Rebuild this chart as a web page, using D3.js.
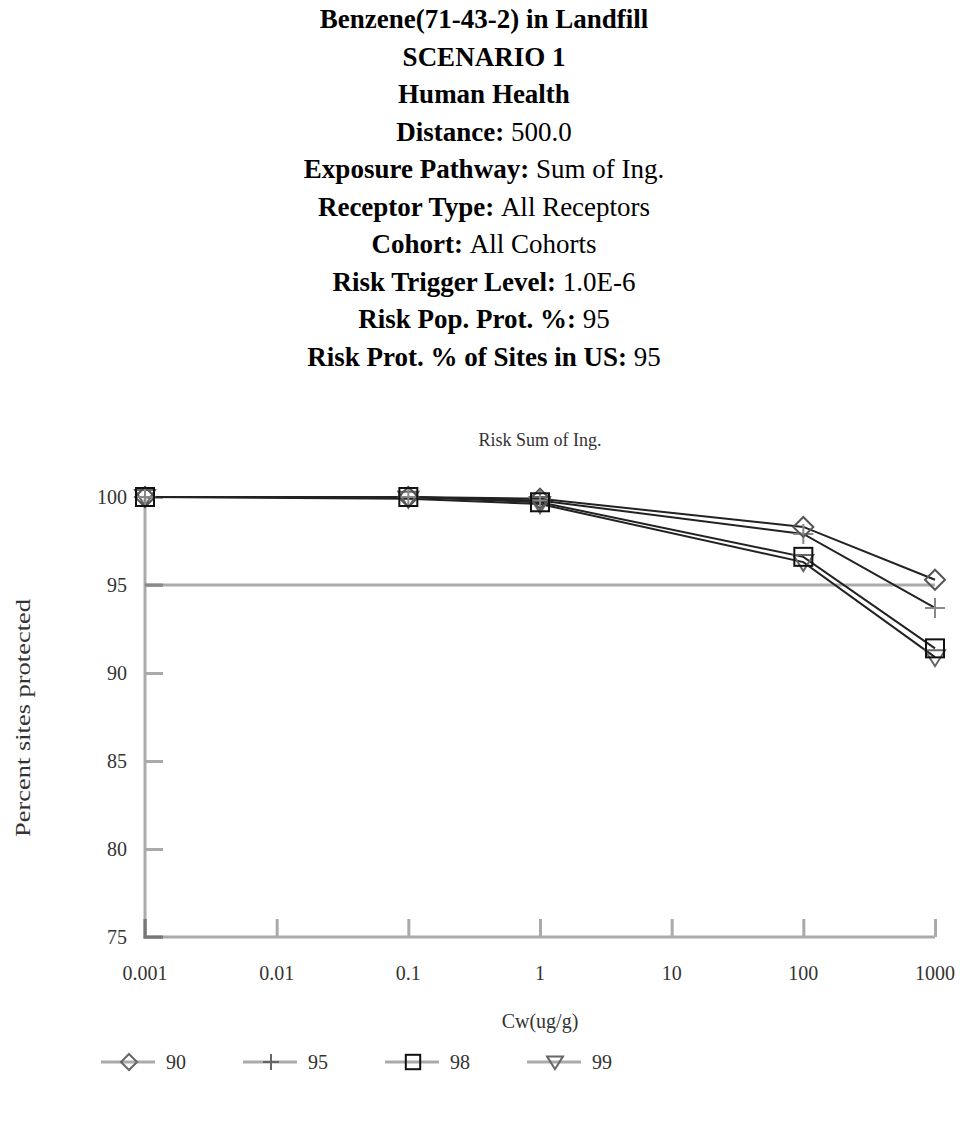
<!DOCTYPE html>
<html>
<head>
<meta charset="utf-8">
<script src="https://cdn.jsdelivr.net/npm/d3@7"></script>
<style>
  html, body { margin: 0; padding: 0; background: #fff; }
  svg text { font-family: "Liberation Serif", "Times New Roman", serif; }
</style>
</head>
<body>
<div id="chart"></div>
<script>
// ---- data ----------------------------------------------------------------
const titleLines = [
  ['Benzene(71-43-2) in Landfill', ''],
  ['SCENARIO 1', ''],
  ['Human Health', ''],
  ['Distance: ', '500.0'],
  ['Exposure Pathway: ', 'Sum of Ing.'],
  ['Receptor Type: ', 'All Receptors'],
  ['Cohort: ', 'All Cohorts'],
  ['Risk Trigger Level: ', '1.0E-6'],
  ['Risk Pop. Prot. %: ', '95'],
  ['Risk Prot. % of Sites in US: ', '95']
];
const cwValues = [0.001, 0.1, 1, 100, 1000];
const xTicks = [0.001, 0.01, 0.1, 1, 10, 100, 1000];
const xTickLabels = ['0.001', '0.01', '0.1', '1', '10', '100', '1000'];
const yTicks = [75, 80, 85, 90, 95, 100];
const seriesNames = ['90', '95', '98', '99'];
const seriesMarkers = ['diamond', 'plus', 'square', 'triangle'];
const pct90 = [100, 100, 99.9, 98.3, 95.3];
const pct95 = [100, 100, 99.8, 97.9, 93.7];
const pct98 = [100, 100, 99.7, 96.6, 91.4];
const pct99 = [100, 99.9, 99.6, 96.3, 90.9];
const protectionLevel = 95;

const W = 964, H = 1131;
const svg = d3.select('#chart').append('svg')
  .attr('width', W).attr('height', H)
  .attr('viewBox', [0, 0, W, H]);

// ---- title block -----------------------------------------------------------
const title = svg.append('g').attr('id', 'title');
titleLines.forEach((l, i) => {
  const t = title.append('text')
    .attr('x', 484).attr('y', 28 + i * 37.5)
    .attr('text-anchor', 'middle')
    .attr('font-size', 27).attr('fill', '#000');
  t.append('tspan').attr('font-weight', 'bold').text(l[0]);
  if (l[1]) t.append('tspan').text(l[1]);
});

// ---- scales ----------------------------------------------------------------
const x = d3.scaleLog().domain([0.001, 1000]).range([145, 935]);
const y = d3.scaleLinear().domain([75, 100]).range([937, 497]);

const axisColor = '#aaa';
const txtColor = '#333';
const frame = svg.append('g').attr('id', 'axes');

svg.append('text')
  .attr('x', 540).attr('y', 446)
  .attr('text-anchor', 'middle').attr('font-size', 18).attr('fill', txtColor)
  .text('Risk Sum of Ing.');

// y axis
const yAxis = frame.append('g')
  .attr('transform', `translate(${x(0.001)},0)`)
  .call(d3.axisRight(y).tickValues(yTicks).tickSize(18).tickFormat(''));
yAxis.select('.domain').remove();
yAxis.selectAll('.tick line').attr('stroke', axisColor).attr('stroke-width', 3);
frame.append('line')
  .attr('x1', x(0.001)).attr('x2', x(0.001))
  .attr('y1', y(100)).attr('y2', y(75) + 1.5)
  .attr('stroke', axisColor).attr('stroke-width', 3);
frame.selectAll('.ylab').data(yTicks).join('text')
  .attr('class', 'ylab')
  .attr('x', 127).attr('y', d => y(d) + 7)
  .attr('text-anchor', 'end').attr('font-size', 20).attr('fill', txtColor)
  .text(d => d);

// x axis
const xAxis = frame.append('g')
  .attr('transform', `translate(0,${y(75)})`)
  .call(d3.axisTop(x).tickValues(xTicks).tickSize(18).tickFormat(''));
xAxis.select('.domain').remove();
xAxis.selectAll('.tick line').attr('stroke', axisColor).attr('stroke-width', 3);
frame.append('line')
  .attr('x1', x(0.001) - 1.5).attr('x2', x(1000))
  .attr('y1', y(75)).attr('y2', y(75))
  .attr('stroke', axisColor).attr('stroke-width', 3);
frame.selectAll('.xlab').data(xTicks).join('text')
  .attr('class', 'xlab')
  .attr('x', d => x(d)).attr('y', y(75) + 43)
  .attr('text-anchor', 'middle').attr('font-size', 20).attr('fill', txtColor)
  .text((d, i) => xTickLabels[i]);

// corner dark ticks
frame.append('path')
  .attr('d', `M${x(0.001)},${y(75) - 18}V${y(75)}H${x(0.001) + 18}`)
  .attr('fill', 'none').attr('stroke', '#777').attr('stroke-width', 3);

// 95% reference line
frame.append('line')
  .attr('x1', x(0.001)).attr('x2', x(1000))
  .attr('y1', y(protectionLevel)).attr('y2', y(protectionLevel))
  .attr('stroke', axisColor).attr('stroke-width', 3);
frame.append('line')
  .attr('x1', x(0.001)).attr('x2', x(0.001) + 18)
  .attr('y1', y(protectionLevel)).attr('y2', y(protectionLevel))
  .attr('stroke', '#888').attr('stroke-width', 3);

// axis titles
svg.append('text')
  .attr('transform', `translate(30,718) rotate(-90)`)
  .attr('text-anchor', 'middle').attr('font-size', 20).attr('fill', txtColor)
  .attr('textLength', 238).attr('lengthAdjust', 'spacingAndGlyphs')
  .text('Percent sites protected');
svg.append('text')
  .attr('x', 540).attr('y', 1028)
  .attr('text-anchor', 'middle').attr('font-size', 20).attr('fill', txtColor)
  .text('Cw(ug/g)');

// ---- markers ---------------------------------------------------------------
function drawMarker(g, type, cx, cy, s, color) {
  const h = s / 2;
  if (type === 'diamond') {
    g.append('path').attr('d', `M${cx},${cy - h}L${cx + h},${cy}L${cx},${cy + h}L${cx - h},${cy}Z`)
      .attr('fill', 'none').attr('stroke', color).attr('stroke-width', 2);
  } else if (type === 'plus') {
    g.append('path').attr('d', `M${cx - h},${cy}H${cx + h}M${cx},${cy - h}V${cy + h}`)
      .attr('fill', 'none').attr('stroke', color).attr('stroke-width', 2);
  } else if (type === 'square') {
    g.append('rect').attr('x', cx - h * 0.9).attr('y', cy - h * 0.9)
      .attr('width', s * 0.9).attr('height', s * 0.9)
      .attr('fill', 'none').attr('stroke', color).attr('stroke-width', 2);
  } else {
    g.append('path').attr('d', `M${cx - h},${cy - h * 0.7}L${cx + h},${cy - h * 0.7}L${cx},${cy + h * 0.9}Z`)
      .attr('fill', 'none').attr('stroke', color).attr('stroke-width', 2);
  }
}

// ---- series ----------------------------------------------------------------
const allSeries = [pct90, pct95, pct98, pct99];
const markerColors = ['#555', '#888', '#111', '#666'];
const line = d3.line().x((d, i) => x(cwValues[i])).y(d => y(d));
const plot = svg.append('g').attr('id', 'series');

[3, 2, 1, 0].forEach(k => {
  plot.append('path').datum(allSeries[k])
    .attr('d', line)
    .attr('fill', 'none').attr('stroke', '#222').attr('stroke-width', 2);
});
[3, 1, 0, 2].forEach(k => {
  const g = plot.append('g');
  allSeries[k].forEach((v, i) => drawMarker(g, seriesMarkers[k], x(cwValues[i]), y(v), 20, markerColors[k]));
});

// ---- legend ----------------------------------------------------------------
const legend = svg.append('g').attr('id', 'legend');
const legendY = 1062;
seriesNames.forEach((name, k) => {
  const x0 = 101 + k * 142;
  const g = legend.append('g');
  g.append('line').attr('x1', x0).attr('x2', x0 + 54)
    .attr('y1', legendY).attr('y2', legendY)
    .attr('stroke', axisColor).attr('stroke-width', 3);
  drawMarker(g, seriesMarkers[k], x0 + 28, legendY, 16, k === 2 ? '#111' : '#666');
  g.append('text').attr('x', x0 + 65).attr('y', legendY + 7)
    .attr('font-size', 20).attr('fill', txtColor).text(name);
});
</script>
</body>
</html>
